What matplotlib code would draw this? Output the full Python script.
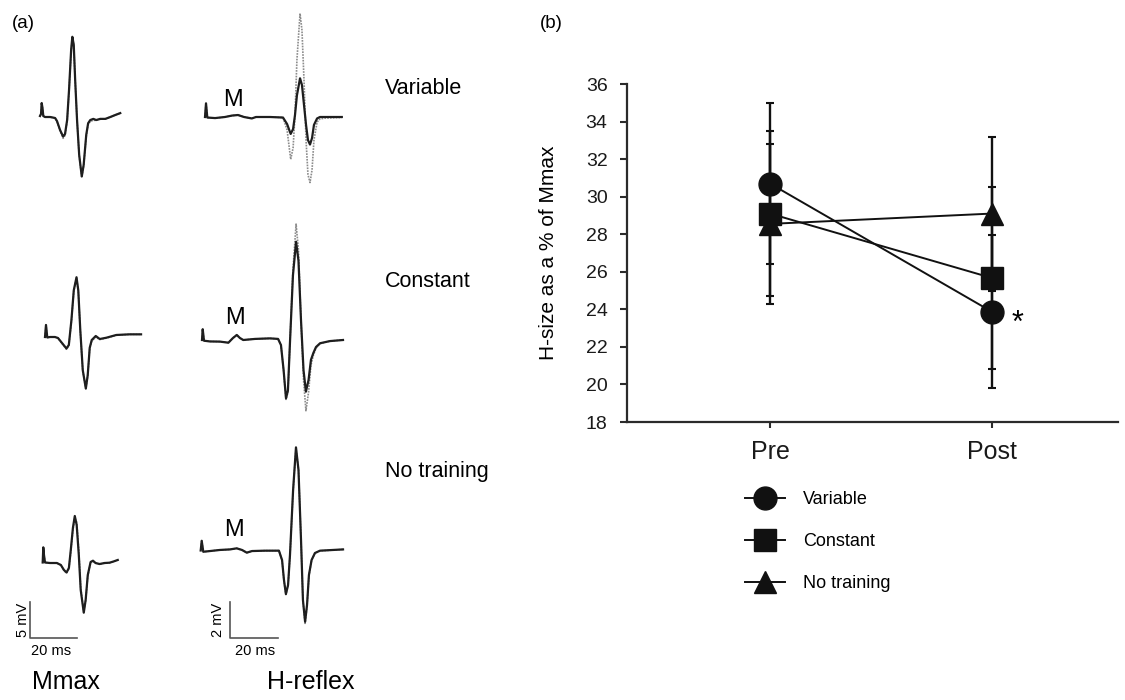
import matplotlib
matplotlib.use('Agg')
import matplotlib.pyplot as plt
from matplotlib.lines import Line2D

plt.rcParams['font.family'] = ['Liberation Sans', 'DejaVu Sans']

# ---------------- data: panel (b) ----------------
categories = ['Pre', 'Post']
group_names = ['Variable', 'Constant', 'No training']
variable_mean = [30.7, 23.87]
variable_err = [4.3, 4.07]
constant_mean = [29.1, 25.67]
constant_err = [4.4, 4.87]
notrain_mean = [28.55, 29.1]
notrain_err = [4.25, 4.1]
y_ticks = [18, 20, 22, 24, 26, 28, 30, 32, 34, 36]

# ---------------- data: panel (a) traces (ms, mV) ----------------
# Mmax, Variable
mmax_var_t = [0, 0.43, 0.72, 1.06, 1.4, 2.1, 4.3, 6.4, 7.2, 8.5, 9.8, 10.6, 11.5, 12.3, 13.2, 13.7, 14.3,
              14.9, 15.7, 16.6, 17.7, 18.5, 19.6, 20.4, 21.3, 22.6, 23.8, 25.5, 27.7, 29.8, 31.9, 34.0]
mmax_var_post = [0, 0.28, 1.8, 1.1, 0, -0.14, -0.14, -0.28, -0.7, -1.94, -2.85, -2.5, -0.56, 3.6, 9.2, 11.0, 9.9,
                 5.0, -0.56, -5.4, -8.4, -6.8, -2.6, -1.0, -0.56, -0.4, -0.56, -0.4, -0.4, -0.14, 0.14, 0.4]
mmax_var_pre = [0, 0.28, 1.8, 1.1, 0, -0.14, -0.14, -0.28, -0.8, -2.1, -3.1, -2.7, -0.7, 3.4, 9.0, 10.9, 9.8,
                5.0, -0.6, -5.5, -8.5, -6.9, -2.8, -1.2, -0.75, -0.6, -0.6, -0.45, -0.4, -0.14, 0.14, 0.4]
# Mmax, Constant
mmax_con_t = [0, 0.42, 0.97, 2.1, 4.2, 5.5, 7.2, 9.1, 10.1, 11.2, 12.2, 13.35, 14.1, 14.95, 16.0, 17.3, 18.1,
              18.95, 19.8, 21.5, 23.2, 26.0, 30.2, 35.8, 40.7]
mmax_con_post = [0, 1.67, -0.07, 0, 0, -0.14, -0.83, -1.6, -1.1, 2.36, 6.5, 8.3, 6.5, 0.97, -4.6, -7.15, -5.3,
                 -1.5, -0.42, 0.14, -0.28, -0.1, 0.28, 0.37, 0.37]
mmax_con_pre = [0, 1.67, -0.07, 0, 0, -0.14, -0.9, -1.7, -1.2, 2.2, 6.4, 8.2, 6.4, 0.9, -4.7, -7.2, -5.4,
                -1.6, -0.6, 0.0, -0.35, -0.15, 0.25, 0.37, 0.37]
# Mmax, No training
mmax_not_t = [0, 0.25, 0.55, 0.97, 3.1, 6.0, 7.7, 9.0, 10.1, 11.1, 11.9, 12.8, 13.6, 14.4, 15.3, 16.1, 17.4,
              18.2, 19.1, 20.3, 21.3, 22.4, 24.1, 26.2, 28.3, 30.0, 31.8]
mmax_not_post = [0, 2.1, 1.04, 0, -0.07, -0.07, -0.35, -1.04, -1.39, -0.76, 1.74, 4.8, 6.46, 5.2, 1.04, -3.8,
                 -6.97, -5.2, -1.74, 0.07, 0.25, -0.07, -0.21, -0.07, -0.03, 0.14, 0.35]
mmax_not_pre = [0, 2.1, 1.04, 0, -0.07, -0.07, -0.35, -1.1, -1.45, -0.9, 1.5, 4.5, 6.2, 5.6, 1.6, -3.5,
                -6.9, -5.3, -1.9, 0.0, 0.2, -0.1, -0.25, -0.1, -0.05, 0.12, 0.35]

# H-reflex, Variable
h_var_t = [0, 0.42, 0.96, 4.2, 8.3, 11.3, 13.75, 16.25, 19.5, 21.25, 27.1, 32.5, 34.2, 35.7, 36.7, 37.5, 38.3,
           39.6, 40.4, 41.25, 42.1, 42.9, 43.75, 44.6, 45.4, 46.7, 47.9, 50.0, 57.0]
h_var_post = [0, 0.76, -0.03, -0.06, 0, 0.08, 0.11, 0, -0.08, 0, 0, -0.03, -0.39, -0.94, -0.67, 0.11, 1.2,
              2.15, 1.78, 0.67, -0.44, -1.28, -1.53, -1.17, -0.44, -0.08, 0, 0, 0]
h_var_pre = [0, 0.76, -0.03, -0.06, 0, 0.08, 0.11, 0, -0.08, 0, 0, -0.03, -0.72, -2.35, -1.72, 0.11, 3.17,
             5.75, 4.83, 2.06, -1.28, -3.2, -3.64, -2.94, -1.28, -0.28, -0.11, -0.06, -0.03]
# H-reflex, Constant
h_con_t = [0, 0.3, 0.83, 3.3, 7.5, 11.0, 12.9, 14.5, 15.8, 17.2, 22.1, 28.3, 31.7, 32.9, 34.0, 35.0, 35.8,
           36.7, 37.9, 39.2, 40.2, 41.25, 42.3, 43.3, 44.4, 45.4, 46.4, 47.5, 49.2, 53.3, 58.75]
h_con_post = [0, 0.6, -0.04, -0.08, -0.09, -0.15, 0.11, 0.28, 0.11, 0, 0.06, 0.09, 0.06, -0.28, -1.67, -3.24,
              -2.8, 0, 3.6, 5.46, 4.4, 1.1, -1.67, -2.87, -2.22, -1.1, -0.72, -0.39, -0.18, -0.06, 0]
h_con_pre = [0, 0.6, -0.04, -0.08, -0.09, -0.15, 0.11, 0.28, 0.11, 0, 0.06, 0.09, 0.06, -0.28, -1.7, -3.3,
             -2.9, 0, 3.9, 6.44, 5.0, 1.1, -2.2, -3.93, -2.9, -1.4, -0.85, -0.45, -0.2, -0.06, 0]
# H-reflex, No training
h_not_t = [0, 0.42, 1.08, 3.9, 8.0, 12.2, 15.0, 17.2, 19.2, 21.4, 26.8, 32.6, 33.9, 34.7, 35.5, 36.4, 37.2,
           38.5, 39.7, 40.75, 41.8, 42.6, 43.5, 44.3, 45.1, 46.2, 47.6, 49.7, 59.3]
h_not_post = [0, 0.54, -0.07, -0.03, 0.03, 0.06, 0.12, 0.03, -0.12, -0.03, -0.01, -0.01, -0.53, -1.64, -2.42,
              -1.92, -0.25, 3.36, 5.73, 4.47, 0.58, -2.75, -3.96, -3.03, -1.36, -0.53, -0.14, -0.01, 0.06]
h_not_pre = [0, 0.54, -0.07, -0.03, 0.03, 0.06, 0.12, 0.03, -0.12, -0.03, -0.01, -0.01, -0.55, -1.7, -2.45,
             -1.95, -0.3, 3.3, 5.7, 4.5, 0.6, -2.8, -4.05, -3.1, -1.4, -0.55, -0.15, -0.02, 0.06]

row_labels = ['Variable', 'Constant', 'No training']

# ---------------- figure ----------------
W, H = 1125, 700
fig = plt.figure(figsize=(W / 100, H / 100), dpi=100)

XS_M, VS_M = 2.36, 7.2    # px per ms, px per mV (Mmax)
XS_H, VS_H = 2.4, 18.0    # px per ms, px per mV (H-reflex)


def trace_axes(x0, y0, xs, vs):
    ax = fig.add_axes([0, 0, 1, 1])
    ax.set_xlim(-x0 / xs, (W - x0) / xs)
    ax.set_ylim(-(H - y0) / vs, y0 / vs)
    ax.axis('off')
    ax.patch.set_alpha(0)
    return ax


def draw_pair(ax, t, pre, post):
    ax.plot(t, pre, color='#8c8c8c', lw=1.2, ls=(0, (1.0, 0.7)))
    ax.plot(t, post, color='#1e1e1e', lw=1.6)


mmax_sets = [(mmax_var_t, mmax_var_pre, mmax_var_post, 40, 116),
             (mmax_con_t, mmax_con_pre, mmax_con_post, 45, 337),
             (mmax_not_t, mmax_not_pre, mmax_not_post, 42.7, 562.5)]
h_sets = [(h_var_t, h_var_pre, h_var_post, 205, 117),
          (h_con_t, h_con_pre, h_con_post, 202, 340),
          (h_not_t, h_not_pre, h_not_post, 200.7, 550.5)]

for t, pre, post, x0, y0 in mmax_sets:
    draw_pair(trace_axes(x0, y0, XS_M, VS_M), t, pre, post)
for t, pre, post, x0, y0 in h_sets:
    draw_pair(trace_axes(x0, y0, XS_H, VS_H), t, pre, post)

# scale bars
sb_m = trace_axes(29.5, 638, XS_M, VS_M)
sb_m.plot([0, 0, 20], [5, 0, 0], color='#555555', lw=1.2)
sb_h = trace_axes(229.5, 638, XS_H, VS_H)
sb_h.plot([0, 0, 20], [2, 0, 0], color='#555555', lw=1.2)


def ftext(px, py, s, **kw):
    fig.text(px / W, 1 - py / H, s, **kw)


ftext(12, 24, '(a)', fontsize=13.5, ha='left', va='center')
ftext(540, 24, '(b)', fontsize=13.5, ha='left', va='center')
for lab, yy in zip(row_labels, [88, 282, 472]):
    ftext(385, yy, lab, fontsize=15.5, ha='left', va='center')
for xx, yy in [(233, 100), (235, 318), (234, 530)]:
    ftext(xx, yy, 'M', fontsize=17, ha='center', va='center')
ftext(23, 620, '5 mV', fontsize=10.5, rotation=90, ha='center', va='center')
ftext(51, 651, '20 ms', fontsize=10.5, ha='center', va='center')
ftext(218, 620, '2 mV', fontsize=10.5, rotation=90, ha='center', va='center')
ftext(255, 651, '20 ms', fontsize=10.5, ha='center', va='center')
ftext(66, 682, 'Mmax', fontsize=18, ha='center', va='center')
ftext(311, 682, 'H-reflex', fontsize=18, ha='center', va='center')

# ---------------- panel (b) ----------------
axb = fig.add_axes([627 / W, 1 - 422 / H, (1118 - 627) / W, (422 - 84) / H])
xpos = [1, 2]
series = [(variable_mean, variable_err, 'o', 16.5, 4),
          (constant_mean, constant_err, 's', 16.5, 3),
          (notrain_mean, notrain_err, '^', 16.0, 2)]
for mean, err, mk, ms, z in series:
    axb.errorbar(xpos, mean, yerr=err, color='#111111', marker=mk, ms=ms, lw=1.4,
                 elinewidth=1.7, capsize=3.2, capthick=1.5, zorder=z)
axb.set_xlim(0.356, 2.568)
axb.set_ylim(18, 36)
axb.set_yticks(y_ticks)
axb.set_xticks(xpos)
axb.set_xticklabels(categories, fontsize=18)
axb.tick_params(axis='y', labelsize=14, direction='out', length=5, width=1.5, pad=9, colors='#2b2b2b')
axb.tick_params(axis='x', direction='out', length=4, width=1.5, pad=9, colors='#2b2b2b')
for lbl in axb.get_xticklabels() + axb.get_yticklabels():
    lbl.set_color('#1a1a1a')
for sp in ['top', 'right']:
    axb.spines[sp].set_visible(False)
for sp in ['left', 'bottom']:
    axb.spines[sp].set_linewidth(1.6)
    axb.spines[sp].set_color('#2b2b2b')
axb.patch.set_alpha(0)
axb.set_ylabel('H-size as a % of Mmax', fontsize=15)
axb.yaxis.set_label_coords(-0.14, 0.5)
axb.text(2.117, 23.2, '*', fontsize=22, ha='center', va='center')

handles = [Line2D([], [], color='#111111', marker=mk, ms=ms, lw=1.4)
           for _, _, mk, ms, _ in series]
fig.legend(handles, group_names, loc='upper left', bbox_to_anchor=(745 / W, 1 - 491 / H),
           frameon=False, fontsize=13, handlelength=2.2, handletextpad=1.0, labelspacing=1.38,
           borderaxespad=0, borderpad=0, numpoints=1)

fig.savefig('out.png', dpi=100)
